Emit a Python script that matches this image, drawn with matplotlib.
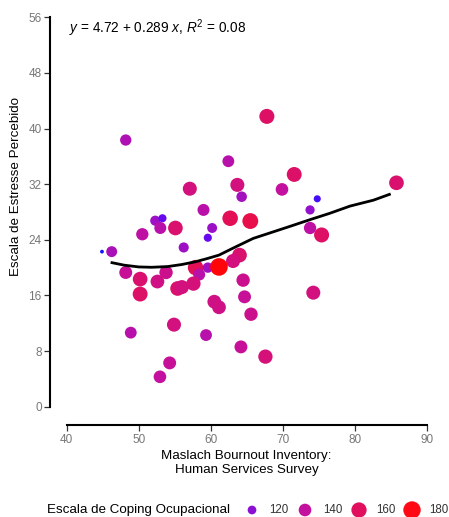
import numpy as np
import matplotlib
matplotlib.use("Agg")
import matplotlib.pyplot as plt
from matplotlib.colors import LinearSegmentedColormap

plt.rcParams['font.family'] = ['Liberation Sans', 'DejaVu Sans']
plt.rcParams['mathtext.fontset'] = 'custom'
plt.rcParams['mathtext.rm'] = 'Liberation Sans'
plt.rcParams['mathtext.it'] = 'Liberation Sans:italic'

# MBI-HSS (x), estresse percebido (y), coping ocupacional (size/colour)
mbi = [48.2, 67.8, 62.45, 71.6, 57.1, 63.7, 69.9, 85.8, 64.3, 74.8,
       59.0, 73.8, 62.7, 65.5, 52.3, 53.3, 53.0, 55.1, 60.2, 59.6,
       50.5, 73.8, 75.4, 56.25, 46.25, 44.9, 64.0, 63.1, 57.9, 59.6,
       58.4, 48.2, 53.8, 50.2, 52.6, 57.6, 64.5, 55.4, 56.0, 50.2,
       64.7, 74.25, 60.5, 61.15, 65.6, 54.9, 48.9, 59.35, 64.2, 67.6,
       54.3, 52.95, 61.15]
stress = [38.35, 41.75, 35.3, 33.4, 31.35, 31.9, 31.25, 32.2, 30.2, 29.9,
          28.3, 28.3, 27.1, 26.7, 26.75, 27.1, 25.7, 25.7, 25.7, 24.3,
          24.8, 25.7, 24.7, 22.9, 22.3, 22.3, 21.8, 20.95, 20.0, 20.0,
          19.0, 19.3, 19.3, 18.35, 18.0, 17.7, 18.2, 17.0, 17.2, 16.2,
          15.8, 16.4, 15.1, 14.3, 13.3, 11.8, 10.65, 10.3, 8.6, 7.2,
          6.3, 4.3, 20.1]
coping = [132, 158, 135, 157, 150, 150, 140, 155, 128, 115,
          136, 122, 162, 165, 126, 118, 136, 155, 125, 118,
          138, 138, 158, 126, 130, 111, 155, 150, 162, 127,
          136, 142, 145, 155, 148, 152, 145, 155, 150, 157,
          142, 150, 148, 148, 145, 150, 135, 135, 142, 152,
          142, 140, 182]

# smoothed fit
fit_x = [46.1, 48, 50, 51.8, 54, 56, 57.9, 59.5, 61.15, 63.1, 65.9, 68.7,
         71.2, 73.8, 76.5, 79.35, 82.6, 85.0]
fit_y = [20.75, 20.35, 20.1, 20.05, 20.15, 20.45, 20.85, 21.3, 21.8, 22.8,
         24.2, 25.15, 26.0, 26.9, 27.8, 28.85, 29.7, 30.6]

leg_vals = [120, 140, 160, 180]
xticks = [40, 50, 60, 70, 80, 90]
yticks = [0, 8, 16, 24, 32, 40, 48, 56]

vmin, vmax = 111, 184
anchors = [(111, '#1414ff'), (118, '#6a08ee'), (120, '#8e10d2'),
           (140, '#c4109e'), (160, '#e0105e'), (180, '#ff0a14'), (184, '#ff0000')]
cmap = LinearSegmentedColormap.from_list(
    'coping', [((v - vmin) / (vmax - vmin), c) for v, c in anchors])


def size_of(v):
    v = np.asarray(v, dtype=float)
    d = 3.8 + 14.0 * np.sqrt(np.clip((v - vmin) / (vmax - vmin), 0, 1))
    return (d * 0.72) ** 2


def col_of(v):
    return cmap((np.asarray(v, dtype=float) - vmin) / (vmax - vmin))


fig = plt.figure(figsize=(4.49, 5.17), dpi=100)
ax = fig.add_axes([66.7 / 449, (517 - 406.7) / 517, 360 / 449, 389.4 / 517])

ax.scatter(mbi, stress, s=size_of(coping), c=col_of(coping), linewidths=0,
           clip_on=False, zorder=2)
ax.plot(fit_x, fit_y, color='black', lw=2.0, zorder=3, solid_capstyle='butt')

ax.set_xlim(40, 90)
ax.set_ylim(0, 56)
ax.set_xticks(xticks)
ax.set_yticks(yticks)
for s in ['top', 'right']:
    ax.spines[s].set_visible(False)
ax.spines['left'].set_position(('outward', 12))
ax.spines['bottom'].set_position(('outward', 13.2))
ax.spines['left'].set_bounds(0, 56)
ax.spines['bottom'].set_bounds(40, 90)
for s in ['left', 'bottom']:
    ax.spines[s].set_linewidth(1.5)
ax.tick_params(axis='both', length=4.5, width=0.9, color='#333333',
               labelcolor='#777777', labelsize=8.5, pad=1.5)
ax.tick_params(axis='x', pad=2)

ax.text(40.3, 54.4, '$y$ = 4.72 + 0.289 $x$, $R^2$ = 0.08', fontsize=9.8,
        va='center', ha='left')

fig.text(16 / 449, 1 - 187 / 517, 'Escala de Estresse Percebido', rotation=90,
         fontsize=9.6, ha='center', va='center')
fig.text(246.7 / 449, 1 - 463 / 517,
         'Maslach Bournout Inventory:\nHuman Services Survey',
         fontsize=9.6, ha='center', va='center', linespacing=1.25)

# legend drawn in pixel space
lax = fig.add_axes([0, 0, 1, 1], zorder=-1)
lax.set_xlim(0, 449)
lax.set_ylim(517, 0)
lax.axis('off')
leg_y = 510
lax.text(47, leg_y, 'Escala de Coping Ocupacional', fontsize=9.6, va='center', ha='left')
dot_x = [252, 305, 359, 412]
lab_x = [269, 323, 376, 429]
lax.scatter(dot_x, [leg_y] * 4, s=size_of(leg_vals), c=col_of(leg_vals), linewidths=0)
for lx, v in zip(lab_x, leg_vals):
    lax.text(lx, leg_y, str(v), fontsize=8.3, va='center', ha='left', color='#333333')

fig.savefig('out.png', dpi=100)
